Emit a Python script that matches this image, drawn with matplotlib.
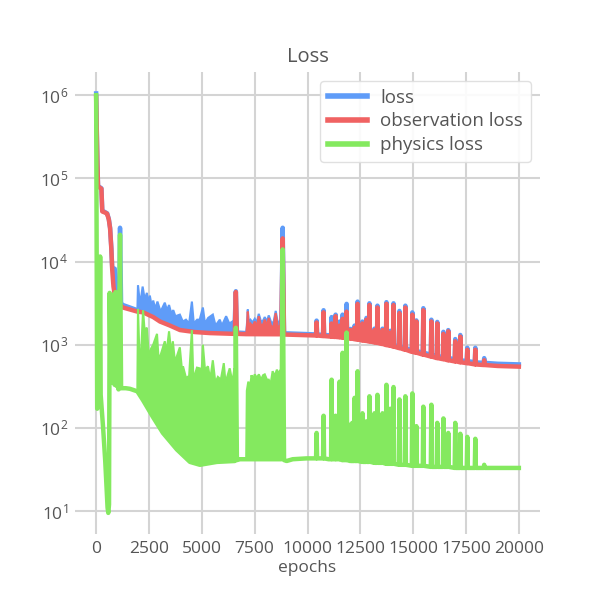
import matplotlib
matplotlib.use('Agg')
import matplotlib.pyplot as plt

# colours / text
blue = '#5f9cf8'
red = '#f06262'
green = '#84e95f'
text_color = '#555555'

# ---- loss (total) ----
loss_epochs = [0, 60, 90, 250, 290, 520, 600, 660, 720, 760,
               820, 880, 920, 960, 1040, 1100, 1130, 1180, 1270, 1600,
               1950, 2220, 2700, 3020, 3490, 3970, 4670, 5380, 6540, 6610,
               6660, 7100, 8760, 8826, 8890, 9160, 9960, 11000, 12000, 13000,
               14000, 15000, 16000, 17100, 18000, 19000, 20000]
loss_values = [1.05e6, 1.5e5, 81000, 76000, 41000, 38000, 32500, 25500, 14500, 8500,
               8000, 8200, 5000, 4000, 3300, 3500, 25500, 3100, 3000, 2800,
               2600, 2550, 2250, 2000, 1780, 1560, 1470, 1420, 1400, 4400,
               1400, 1380, 1375, 25500, 1370, 1365, 1345, 1300, 1232, 1130,
               1000, 852, 740, 660, 612, 590, 580]

# ---- observation loss ----
obs_epochs = [0, 60, 90, 250, 290, 450, 520, 600, 660, 720,
              760, 820, 900, 1040, 1270, 1600, 1950, 2220, 2700, 3020,
              3490, 3970, 4670, 5380, 6560, 6610, 6660, 7100, 8760, 8826,
              8890, 9160, 9960, 11000, 12000, 13000, 14000, 15000, 16000, 17100,
              18000, 19000, 20000]
obs_values = [9.5e5, 1.5e5, 80000, 75000, 40000, 38500, 37500, 32000, 25000, 14000,
              8000, 5000, 3700, 3150, 2800, 2650, 2500, 2450, 2150, 1900,
              1700, 1500, 1420, 1380, 1350, 4300, 1350, 1340, 1335, 19000,
              1325, 1320, 1300, 1255, 1190, 1090, 960, 815, 705, 625,
              578, 555, 545]

# ---- physics loss ----
phys_epochs = [0, 50, 150, 190, 215, 330, 430, 540, 575, 610,
               640, 680, 720, 770, 820, 870, 920, 960, 1010, 1060,
               1130, 1180, 1400, 1600, 1950, 2220, 2690, 3160, 3820, 4440,
               4910, 5710, 6560, 6610, 6660, 6800, 7100, 8000, 8760, 8826,
               8890, 9015, 9300, 9960, 11000, 12000, 13000, 14000, 15000, 16000,
               17100, 18000, 19000, 20000]
phys_values = [1.0e6, 170, 200, 11500, 250, 100, 40, 11, 9.5, 12,
               4200, 500, 3800, 350, 4000, 330, 4300, 320, 3000, 290,
               21000, 300, 300, 295, 275, 215, 135, 87, 55, 39,
               36, 39, 40, 1600, 41, 42, 42, 42, 42, 14000,
               41, 40, 42, 43, 42, 40, 39, 37, 35, 34,
               33, 33, 33, 33]

# ---- late spikes (epochs 10000-18500) ----
spike_epochs = [10430, 10760, 11140, 11330, 11520, 11660, 11850, 12040, 12230, 12370,
                12600, 12790, 12930, 13170, 13310, 13550, 13735, 13920, 14070, 14350,
                14630, 14960, 15150, 15480, 15860, 16140, 16430, 16660, 16990, 17230,
                17560, 17940, 18360]
loss_spike_peaks = [1950, 2600, 2150, 2300, 1900, 2300, 3100, 1550, 1700, 3300,
                    1900, 2100, 3150, 1560, 2950, 1560, 3250, 1470, 3150, 2550,
                    2950, 2450, 1960, 2750, 2000, 1880, 1430, 1500, 1170, 1310,
                    920, 920, 690]
loss_spike_bases = [1330, 1310, 1290, 1280, 1270, 1260, 1240, 1230, 1210, 1200,
                    1170, 1150, 1140, 1110, 1090, 1060, 1030, 1010, 990, 950,
                    910, 860, 840, 800, 760, 730, 710, 690, 670, 650,
                    635, 615, 605]
obs_spike_peaks = [1850, 2450, 1800, 2200, 1700, 2050, 2500, 1500, 1600, 3100,
                   1800, 2000, 3000, 1500, 2800, 1500, 3100, 1400, 3000, 2400,
                   2800, 2300, 1900, 2600, 1900, 1800, 1350, 1450, 1100, 1250,
                   870, 870, 650]
obs_spike_bases = [1290, 1270, 1250, 1240, 1230, 1220, 1200, 1190, 1170, 1160,
                   1130, 1110, 1100, 1070, 1050, 1020, 990, 970, 950, 910,
                   870, 820, 800, 760, 720, 690, 670, 650, 630, 615,
                   600, 580, 570]
phys_spike_peaks = [87, 140, 380, 140, 360, 800, 1400, 110, 230, 480,
                    150, 120, 240, 150, 250, 150, 330, 170, 310, 220,
                    240, 260, 105, 180, 190, 115, 130, 87, 115, 85,
                    78, 74, 36]
phys_spike_bases = [43, 43, 42, 42, 42, 41, 41, 40, 40, 40,
                    39, 39, 39, 38, 38, 38, 37, 37, 37, 36,
                    36, 35, 35, 35, 34, 34, 34, 34, 33, 33,
                    33, 33, 33]

# ---- dense oscillation bands (top envelope + bottom edge) ----
loss_band1_epochs = [1950, 1980, 2080, 2200, 2300, 2400, 2480, 2540, 2640, 2700,
                     2800, 2900, 3050, 3250, 3350, 3450, 3550, 3650, 3750, 3960,
                     4100, 4250, 4400, 4530, 4620, 4780, 4900, 5050, 5150, 5300,
                     5520, 5650, 5850, 5950, 6150, 6300, 6450, 6540]
loss_band1_top = [2500, 5200, 3000, 5000, 3500, 4200, 3000, 3900, 2800, 3400,
                  2700, 3300, 2500, 3200, 2600, 3000, 2400, 2600, 2200, 2300,
                  1900, 2000, 1800, 3300, 1800, 2000, 2000, 2800, 1800, 2100,
                  2300, 1700, 2000, 1700, 2200, 1800, 1900, 1450]
loss_band1_floor_epochs = [1950, 2220, 2700, 3020, 3490, 3970, 4670, 5380, 6540]
loss_band1_floor = [2500, 2450, 2150, 1900, 1700, 1500, 1420, 1380, 1350]

phys_band1_epochs = [1950, 1980, 2060, 2120, 2220, 2290, 2400, 2500, 2600, 2700,
                     2880, 2950, 3050, 3250, 3330, 3450, 3550, 3630, 3720, 3800,
                     3960, 4060, 4110, 4250, 4400, 4530, 4600, 4770, 4900, 4980,
                     5050, 5150, 5290, 5400, 5520, 5640, 5760, 5900, 6040, 6120,
                     6320, 6450, 6540, 6580]
phys_band1_top = [275, 2700, 600, 700, 2600, 1500, 1600, 700, 900, 1000,
                  1350, 700, 750, 1100, 800, 1450, 800, 1100, 650, 700,
                  930, 500, 550, 400, 420, 1500, 380, 530, 520, 400,
                  1000, 500, 550, 380, 650, 350, 410, 380, 600, 350,
                  520, 350, 520, 40]
phys_band1_floor_epochs = [1950, 2220, 2690, 3160, 3820, 4440, 4910, 5710, 6580]
phys_band1_floor = [275, 215, 135, 87, 55, 39, 36, 39, 40]

band2_epochs = [7100, 7140, 7174, 7220, 7300, 7400, 7505, 7600, 7694, 7800,
                7900, 7977, 8080, 8166, 8300, 8400, 8496, 8600, 8700, 8760]
loss_band2_top = [1380, 1850, 2650, 1900, 2000, 1850, 2050, 1850, 2350, 1900,
                  1950, 2150, 1900, 2250, 1800, 1900, 2550, 1800, 1950, 1375]
obs_band2_top = [1340, 1700, 2500, 1700, 1800, 1650, 1900, 1650, 2200, 1700,
                 1750, 2000, 1700, 2100, 1600, 1700, 2400, 1600, 1700, 1335]
phys_band2_epochs = [7100, 7130, 7200, 7280, 7350, 7420, 7505, 7600, 7700, 7800,
                     7900, 7977, 8080, 8166, 8250, 8350, 8450, 8550, 8650, 8730,
                     8760]
phys_band2_top = [42, 280, 360, 300, 430, 380, 440, 400, 440, 380,
                  430, 440, 380, 380, 330, 480, 420, 500, 450, 500,
                  42]
band2_floor_epochs = [7100, 8760]
loss_band2_floor = [1380, 1375]
obs_band2_floor = [1340, 1335]
phys_band2_floor = [42, 42]

obs_band3_epochs = [11100, 11200, 11400, 11600, 11750, 11950, 12150, 12450, 12700, 13000,
                    13300, 13600, 13900, 14100]
obs_band3_top = [1255, 1450, 1380, 1600, 1420, 1450, 1380, 1500, 1330, 1400,
                 1280, 1300, 1180, 955]
obs_band3_floor_epochs = [11100, 14100]
obs_band3_floor = [1255, 955]
phys_band3_epochs = [11100, 11150, 11300, 11450, 11600, 11750, 11900, 12100, 12300, 12500,
                     12700, 12900, 13100, 13300, 13500, 13700]
phys_band3_top = [42, 100, 85, 120, 95, 130, 95, 120, 90, 110,
                  85, 100, 80, 95, 75, 38]
phys_band3_floor_epochs = [11100, 13700]
phys_band3_floor = [42, 38]

ticks_x = [0, 2500, 5000, 7500, 10000, 12500, 15000, 17500, 20000]
ticks_y = [1e1, 1e2, 1e3, 1e4, 1e5, 1e6]


def add_spikes(epochs, values, bases, peaks, half=25):
    pts = list(zip(epochs, values))
    for e, b, p in zip(spike_epochs, bases, peaks):
        pts += [(e - half, b), (e, p), (e + half, b)]
    pts.sort()
    return [p[0] for p in pts], [p[1] for p in pts]


def band(ax, top_x, top_y, floor_x, floor_y, color, z):
    xs = list(top_x) + list(floor_x)[::-1]
    ys = list(top_y) + list(floor_y)[::-1]
    ax.fill(xs, ys, color=color, lw=1.5, zorder=z)


plt.rcParams['font.family'] = ['Open Sans', 'DejaVu Sans']
plt.rcParams['mathtext.fontset'] = 'custom'
plt.rcParams['mathtext.rm'] = 'Open Sans'
plt.rcParams['mathtext.it'] = 'Open Sans'

fig, ax = plt.subplots(figsize=(6, 6), dpi=100)

lw = 3.2
lx, ly = add_spikes(loss_epochs, loss_values, loss_spike_bases, loss_spike_peaks)
ox, oy = add_spikes(obs_epochs, obs_values, obs_spike_bases, obs_spike_peaks)
px, py = add_spikes(phys_epochs, phys_values, phys_spike_bases, phys_spike_peaks)

band(ax, loss_band1_epochs, loss_band1_top, loss_band1_floor_epochs, loss_band1_floor, blue, 2)
band(ax, band2_epochs, loss_band2_top, band2_floor_epochs, loss_band2_floor, blue, 2)
ax.plot(lx, ly, color=blue, lw=lw, label='loss', zorder=2)

band(ax, band2_epochs, obs_band2_top, band2_floor_epochs, obs_band2_floor, red, 3)
band(ax, obs_band3_epochs, obs_band3_top, obs_band3_floor_epochs, obs_band3_floor, red, 3)
ax.plot(ox, oy, color=red, lw=lw, label='observation loss', zorder=3)

band(ax, phys_band1_epochs, phys_band1_top, phys_band1_floor_epochs, phys_band1_floor, green, 4)
band(ax, phys_band2_epochs, phys_band2_top, band2_floor_epochs, phys_band2_floor, green, 4)
band(ax, phys_band3_epochs, phys_band3_top, phys_band3_floor_epochs, phys_band3_floor, green, 4)
ax.plot(px, py, color=green, lw=lw, label='physics loss', zorder=4)

ax.set_yscale('log')
ax.set_xlim(-1000, 21000)
ax.set_ylim(5.3, 1.9e6)
ax.set_xticks(ticks_x)
ax.set_yticks(ticks_y)
ax.minorticks_off()
ax.grid(True, color='#d4d4d4', lw=1.5, zorder=0)
ax.set_axisbelow(True)
for s in ax.spines.values():
    s.set_visible(False)
ax.tick_params(length=0, labelsize=12.5, labelcolor=text_color, pad=5)

ax.set_title('Loss', fontsize=14.5, color=text_color, pad=7)
ax.set_xlabel('epochs', fontsize=12.5, color=text_color, labelpad=2)

leg = ax.legend(loc='upper right', fontsize=13.5, handlelength=2.1, handletextpad=0.7,
                labelspacing=0.3, framealpha=0.9, edgecolor='#dddddd',
                labelcolor=text_color)
for h in leg.get_lines():
    h.set_linewidth(4)

plt.savefig('out.png', dpi=100)
